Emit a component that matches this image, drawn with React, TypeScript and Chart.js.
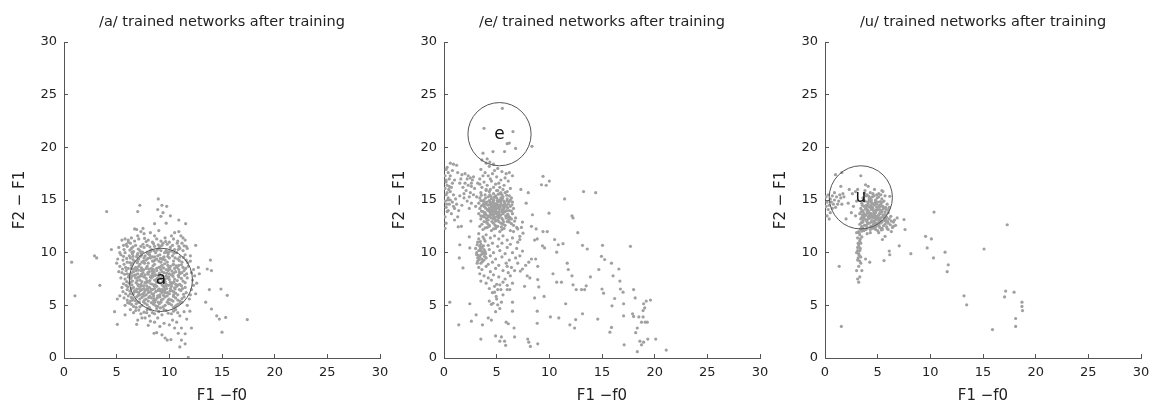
import React, { useEffect, useRef } from "react";
import { Chart, registerables } from "chart.js";
Chart.register(...registerables);

type P = [number, number];

const tickValues = [0, 5, 10, 15, 20, 25, 30];
const xAxisLabel = "F1 \u2212f0";
const yAxisLabel = "F2 \u2212 F1";
const panelTitles = [
  "/a/ trained networks after training",
  "/e/ trained networks after training",
  "/u/ trained networks after training",
];
const vowelLabels = ["a", "e", "u"];
const circleCenters: P[] = [
  [9.2, 7.42],
  [5.27, 21.25],
  [3.4, 15.25],
];
const circleRadii = [3, 3, 3];

// ---------- /a/ ----------
const aCluster: P[] = [
  [6.9, 12.2], [7.3, 12.0], [7.6, 11.8], [8.2, 11.9], [9.0, 12.1], [10.5, 11.9], [10.9, 12.0], [11.1, 11.6], [6.4, 11.4], [5.8, 11.3], [6.1, 11.2],
  [5.5, 11.2], [6.3, 10.9], [6.7, 11.1], [7.1, 11.3], [7.5, 10.8], [8.0, 11.2], [8.4, 11.0], [8.8, 11.3], [9.2, 11.1], [9.6, 11.4], [10.0, 11.0], [10.4, 11.3], [10.8, 11.1], [11.2, 10.9], [11.5, 11.2], [5.9, 10.8], [9.4, 10.9],
  [5.2, 10.5], [5.7, 10.3], [6.0, 10.6], [6.4, 10.4], [6.8, 10.7], [7.2, 10.2], [7.6, 10.5], [7.9, 10.7], [8.3, 10.3], [8.6, 10.6], [9.0, 10.4], [9.3, 10.7], [9.7, 10.2], [10.1, 10.5], [10.5, 10.3], [10.9, 10.6], [11.3, 10.2], [11.7, 10.4], [6.6, 10.1], [8.1, 10.0],
  [5.4, 9.8], [5.8, 10.0], [6.2, 9.7], [6.5, 9.9], [6.9, 9.6], [7.3, 10.0], [7.7, 9.7], [8.0, 9.9], [8.4, 9.6], [8.7, 10.0], [9.1, 9.8], [9.5, 9.6], [9.9, 9.9], [10.3, 9.7], [10.7, 10.0], [11.0, 9.6], [11.5, 9.8], [12.0, 9.7], [7.0, 9.9], [8.9, 9.7],
  [5.6, 9.3], [6.0, 9.1], [6.3, 9.5], [6.7, 9.2], [7.1, 9.4], [7.4, 9.1], [7.8, 9.3], [8.2, 9.5], [8.5, 9.2], [8.8, 9.4], [9.2, 9.1], [9.6, 9.3], [10.0, 9.5], [10.4, 9.2], [10.8, 9.4], [11.2, 9.1], [11.6, 9.3], [6.5, 9.0], [8.0, 9.0], [9.4, 9.5],
  [5.3, 8.7], [5.7, 8.9], [6.1, 8.5], [6.4, 8.8], [6.8, 8.6], [7.2, 8.9], [7.5, 8.4], [7.9, 8.7], [8.3, 8.5], [8.6, 8.9], [9.0, 8.6], [9.3, 8.8], [9.7, 8.4], [10.1, 8.7], [10.5, 8.5], [10.9, 8.8], [11.3, 8.6], [11.8, 8.7], [6.9, 8.5], [8.8, 8.5],
  [5.5, 8.1], [5.9, 8.3], [6.2, 7.9], [6.6, 8.2], [7.0, 8.0], [7.3, 8.3], [7.7, 7.9], [8.1, 8.2], [8.4, 8.0], [8.8, 8.3], [9.1, 7.9], [9.5, 8.1], [9.9, 8.3], [10.2, 7.9], [10.6, 8.2], [11.0, 8.0], [11.4, 8.3], [12.1, 8.1], [7.4, 7.8], [9.7, 7.8],
  [5.8, 7.5], [6.1, 7.7], [6.5, 7.3], [6.8, 7.6], [7.2, 7.4], [7.6, 7.7], [7.9, 7.3], [8.3, 7.6], [8.6, 7.4], [9.0, 7.7], [9.4, 7.3], [9.8, 7.6], [10.1, 7.2], [10.5, 7.5], [10.9, 7.7], [11.3, 7.3], [11.7, 7.6], [12.2, 7.4], [6.3, 7.2], [8.8, 7.2],
  [5.9, 6.9], [6.2, 7.1], [6.6, 6.7], [7.0, 7.0], [7.3, 6.8], [7.7, 7.1], [8.1, 6.7], [8.4, 7.0], [8.8, 6.8], [9.2, 7.1], [9.5, 6.7], [9.9, 6.9], [10.3, 7.1], [10.7, 6.8], [11.0, 7.0], [11.5, 6.7], [12.3, 6.9], [6.4, 6.6], [8.6, 6.6], [10.1, 6.6],
  [5.6, 6.3], [6.0, 6.5], [6.3, 6.1], [6.7, 6.4], [7.1, 6.2], [7.4, 6.5], [7.8, 6.0], [8.2, 6.3], [8.5, 6.1], [8.9, 6.4], [9.3, 6.2], [9.6, 6.5], [10.0, 6.1], [10.4, 6.3], [10.8, 6.0], [11.1, 6.4], [11.6, 6.2], [12.0, 6.0], [7.6, 6.6], [9.1, 6.0],
  [5.7, 5.7], [6.1, 5.9], [6.5, 5.5], [6.9, 5.8], [7.2, 5.6], [7.6, 5.9], [8.0, 5.4], [8.3, 5.7], [8.7, 5.5], [9.1, 5.8], [9.4, 5.6], [9.8, 5.9], [10.2, 5.5], [10.6, 5.7], [11.0, 5.4], [11.4, 5.8], [6.3, 5.4], [8.5, 5.9],
  [6.2, 5.2], [6.6, 4.9], [7.0, 5.3], [7.4, 5.0], [7.7, 5.2], [8.1, 4.8], [8.5, 5.1], [8.9, 4.9], [9.2, 5.3], [9.6, 5.0], [10.0, 5.2], [10.4, 4.8], [10.8, 5.1], [11.2, 5.3], [5.8, 5.0],
  [6.8, 4.5], [7.3, 4.2], [7.9, 4.6], [8.4, 4.3], [8.8, 4.7], [9.3, 4.1], [9.7, 4.5], [10.2, 4.2], [10.6, 4.6], [11.0, 4.0], [8.1, 4.0], [9.0, 4.4], [6.3, 4.6], [11.4, 4.4],
  [7.0, 3.6], [8.2, 3.5], [8.9, 3.8], [9.5, 3.3], [10.3, 3.6], [9.1, 3.0], [8.0, 3.1], [10.7, 3.4],
];
const aDense: P[] = [
  [7.1, 8.7], [7.5, 8.1], [7.8, 8.5], [8.2, 7.7], [8.5, 8.4], [8.9, 7.6], [9.2, 8.4], [9.6, 7.5], [10.0, 8.0], [7.3, 7.0],
  [7.7, 6.4], [8.0, 7.2], [8.4, 6.5], [8.7, 7.9], [9.3, 6.5], [9.7, 7.0], [10.2, 6.8], [7.0, 9.2], [7.6, 9.5], [8.4, 9.2],
  [9.0, 9.2], [9.8, 9.1], [7.2, 6.0], [8.0, 6.2], [8.9, 5.9], [9.6, 6.2], [10.4, 6.0], [6.8, 7.9], [6.4, 8.5], [6.9, 6.3],
  [8.6, 5.3], [9.9, 5.5], [7.9, 10.0], [8.6, 9.6], [9.2, 10.2], [10.0, 10.1], [10.4, 8.9], [10.6, 7.0], [10.9, 8.4], [6.0, 8.0],
];
const aFill: P[] = [
  [6.45, 10.05], [7.05, 10.35], [7.45, 10.05], [8.25, 10.15], [8.85, 10.25], [9.55, 10.0], [10.25, 10.15], [10.85, 10.3],
  [5.95, 9.45], [6.55, 9.35], [6.95, 9.75], [7.55, 9.2], [8.15, 9.75], [8.65, 9.3], [9.35, 9.35], [9.85, 9.65], [10.55, 9.5], [11.35, 9.55], [7.25, 9.65],
  [5.85, 8.6], [6.25, 9.05], [6.6, 8.45], [7.05, 8.35], [7.65, 9.0], [8.05, 8.45], [8.45, 8.75], [9.15, 8.65], [9.55, 8.95], [9.95, 8.55], [10.35, 8.85], [10.75, 8.6], [11.15, 8.85], [11.55, 8.5],
  [5.75, 7.95], [6.4, 8.05], [6.85, 8.3], [7.2, 7.75], [7.55, 8.35], [8.0, 7.95], [8.35, 8.25], [8.65, 7.85], [9.3, 8.2], [9.75, 8.05], [10.05, 8.45], [10.4, 8.05], [10.85, 7.85], [11.2, 8.1], [11.65, 8.0],
  [5.95, 7.25], [6.35, 7.55], [6.65, 7.85], [7.05, 7.65], [7.4, 7.25], [7.8, 7.55], [8.15, 7.35], [8.45, 7.75], [8.8, 7.5], [9.2, 7.55], [9.6, 7.25], [10.0, 7.45], [10.35, 7.75], [10.75, 7.35], [11.15, 7.55], [11.5, 7.15],
  [6.05, 6.75], [6.45, 6.95], [6.85, 7.15], [7.15, 6.6], [7.55, 6.85], [7.9, 6.6], [8.25, 7.05], [8.55, 6.85], [9.0, 6.55], [9.35, 6.9], [9.75, 6.6], [10.15, 7.0], [10.5, 6.65], [10.85, 6.95], [11.25, 6.6],
  [5.85, 6.1], [6.25, 6.35], [6.55, 6.05], [6.9, 6.55], [7.25, 6.4], [7.6, 6.2], [7.95, 6.45], [8.35, 6.1], [8.7, 6.3], [9.05, 6.55], [9.45, 6.35], [9.8, 6.2], [10.2, 6.4], [10.6, 6.15], [10.95, 6.5], [11.35, 6.05],
  [6.0, 5.5], [6.4, 5.75], [6.75, 5.45], [7.05, 5.95], [7.4, 5.75], [7.8, 5.6], [8.15, 5.85], [8.5, 5.45], [8.85, 5.7], [9.25, 5.5], [9.6, 5.8], [10.0, 5.6], [10.4, 5.85], [10.8, 5.5], [11.2, 5.65],
  [6.4, 5.1], [6.85, 5.15], [7.2, 4.85], [7.55, 5.35], [7.9, 5.05], [8.3, 5.25], [8.7, 4.95], [9.05, 5.15], [9.4, 4.85], [9.8, 5.3], [10.2, 5.05], [10.6, 4.95], [11.0, 5.2],
  [6.6, 4.3], [7.1, 4.55], [7.6, 4.35], [8.2, 4.6], [8.6, 4.2], [9.5, 4.6], [9.9, 4.25], [10.4, 4.45], [10.8, 4.3],
  [5.65, 10.7], [6.1, 11.0], [6.55, 10.55], [7.3, 10.6], [7.8, 11.05], [8.5, 10.85], [9.1, 10.6], [9.8, 10.8], [10.3, 10.7], [11.0, 10.4],
  [11.4, 10.65], [7.0, 11.6], [8.6, 11.6], [10.2, 11.6], [11.3, 11.4], [5.3, 10.0], [5.1, 9.4], [5.2, 8.2], [5.4, 7.6], [5.5, 6.7],
  [5.3, 5.9], [12.0, 9.2], [12.3, 8.4], [12.4, 7.8], [12.1, 6.5], [11.9, 5.6], [11.7, 5.0], [12.6, 7.1],
];
const aCore: P[] = [
  [6.55, 9.65], [7.35, 9.75], [7.95, 9.45], [8.55, 10.2], [9.15, 9.45], [9.75, 10.05], [10.45, 9.95],
  [6.95, 9.05], [7.35, 8.55], [7.95, 8.1], [8.55, 8.15], [9.05, 8.05], [9.45, 8.55], [9.85, 8.8], [10.25, 8.25], [10.65, 8.75],
  [6.45, 7.75], [6.95, 7.35], [7.35, 7.95], [7.75, 7.2], [8.35, 7.85], [8.95, 7.25], [9.35, 7.75], [9.95, 7.7], [10.45, 7.25], [10.95, 8.15],
  [6.65, 6.25], [7.05, 6.85], [7.45, 6.05], [7.85, 6.85], [8.25, 6.55], [8.65, 6.95], [9.15, 6.35], [9.65, 6.85], [10.05, 6.35], [10.55, 6.55],
  [6.55, 5.65], [7.15, 5.3], [7.65, 5.5], [8.05, 5.75], [8.55, 5.65], [8.95, 5.3], [9.45, 5.95], [9.95, 5.15], [10.35, 5.4], [7.95, 4.7], [9.15, 4.75], [6.85, 4.8],
  [8.15, 10.55], [8.95, 10.75], [9.65, 11.05], [7.65, 11.35], [6.25, 10.25], [5.65, 9.65], [5.55, 8.45], [5.65, 7.05], [6.05, 5.25], [11.45, 7.85], [11.15, 6.85], [11.75, 9.05], [10.75, 10.9], [10.95, 9.25],
];
const aOuter: P[] = [
  [0.73, 9.1], [1.04, 5.9], [2.9, 9.7], [3.1, 9.5], [3.4, 6.9], [4.05, 13.9], [4.5, 10.3], [4.8, 4.4], [5.0, 9.0], [5.06, 5.6],
  [5.06, 3.2], [5.8, 4.1], [7.2, 14.5], [7.0, 13.9], [6.9, 3.2], [8.95, 15.1], [8.9, 14.1], [9.3, 14.5], [9.75, 14.4], [9.4, 13.8],
  [9.2, 13.45], [10.1, 13.5], [9.7, 12.8], [10.9, 13.1], [11.55, 12.75], [8.6, 12.75], [6.7, 12.25], [7.5, 12.3], [11.6, 10.6], [12.5, 10.7],
  [12.75, 8.6], [12.85, 8.0], [13.6, 8.45], [13.9, 9.3], [14.0, 8.3], [13.8, 6.5], [14.9, 6.55], [15.5, 5.95], [12.5, 6.1], [13.45, 5.3],
  [14.0, 4.65], [14.5, 4.0], [14.75, 3.7], [15.35, 3.85], [15.0, 2.45], [17.4, 3.65], [8.6, 3.4], [8.8, 2.4], [8.55, 2.35], [9.3, 2.2],
  [9.6, 1.9], [9.8, 1.7], [10.15, 1.75], [11.0, 1.05], [11.5, 1.35], [10.85, 2.35], [11.5, 2.3], [11.15, 1.7], [11.8, 0.05], [10.0, 3.15],
  [10.5, 2.85], [11.15, 2.85], [11.65, 3.7], [12.1, 2.85], [11.95, 4.45], [7.7, 3.8], [7.4, 3.8], [7.85, 4.3],
];

// ---------- /e/ ----------
const eLeft: P[] = [
  [0.1, 12.3], [0.2, 12.8], [0.1, 13.4], [0.3, 13.9], [0.2, 14.3], [0.5, 14.6], [0.1, 14.9], [0.4, 15.2], [0.2, 15.5], [0.6, 15.8],
  [0.1, 16.1], [0.3, 16.4], [0.2, 16.7], [0.5, 17.0], [0.1, 17.3], [0.4, 17.6], [0.3, 18.1], [0.6, 18.5], [0.9, 18.4], [1.2, 18.3],
  [0.8, 17.8], [0.7, 16.2], [0.9, 15.5], [1.1, 15.1], [0.8, 14.8], [1.0, 14.2], [0.7, 13.7], [1.3, 13.4], [1.0, 13.1], [1.2, 14.6],
  [1.5, 15.4], [0.4, 14.0], [0.6, 15.0], [0.3, 15.7], [0.2, 16.9], [0.8, 16.6], [1.0, 16.9], [0.5, 16.3], [0.9, 14.4], [1.4, 14.0],
];
const eBand: P[] = [
  [1.3, 17.6], [1.7, 17.4], [2.0, 17.5], [2.3, 17.3], [2.5, 17.1], [2.7, 16.9], [1.6, 17.0], [2.0, 16.6], [2.3, 16.4], [2.6, 16.3],
  [2.9, 16.1], [1.8, 16.2], [2.1, 15.9], [2.5, 15.7], [2.8, 15.5], [3.1, 15.3], [1.9, 15.2], [2.2, 14.9], [2.6, 14.7], [2.4, 14.2],
  [1.7, 14.5], [3.0, 14.4], [2.8, 17.2], [3.2, 16.6],
];
const eUpper: P[] = [
  [3.6, 18.8], [4.0, 18.5], [4.3, 18.2], [4.7, 18.4], [5.1, 18.0], [5.5, 17.7], [5.9, 17.5], [6.2, 17.6], [3.5, 17.9], [3.9, 17.6],
  [4.2, 17.3], [4.6, 17.5], [5.0, 17.2], [5.4, 16.9], [5.8, 17.1], [6.1, 16.8], [3.4, 17.0], [3.8, 16.7], [4.1, 16.4], [4.5, 16.8],
  [4.9, 16.5], [5.3, 16.2], [5.7, 16.4], [6.3, 16.1], [3.6, 16.2], [4.4, 16.0], [5.0, 15.9], [6.0, 15.8], [6.5, 17.3],
];
const eMain: P[] = [
  [3.5, 15.7], [3.9, 15.5], [4.3, 15.8], [4.7, 15.6], [5.1, 15.9], [5.5, 15.5], [5.8, 15.7], [6.2, 15.4], [4.0, 15.9], [5.3, 15.6],
  [3.4, 15.2], [3.8, 15.0], [4.2, 15.3], [4.5, 15.1], [4.9, 15.4], [5.2, 15.0], [5.6, 15.3], [6.0, 15.1], [6.4, 15.2], [4.7, 15.0], [5.4, 15.2], [5.0, 15.2],
  [3.3, 14.7], [3.7, 14.9], [4.0, 14.6], [4.4, 14.8], [4.8, 14.5], [5.1, 14.8], [5.4, 14.6], [5.7, 14.9], [6.1, 14.6], [6.5, 14.8], [4.6, 14.7], [5.0, 14.6], [5.6, 14.5], [4.2, 14.5],
  [3.4, 14.2], [3.8, 14.4], [4.1, 14.1], [4.5, 14.3], [4.8, 14.0], [5.2, 14.3], [5.5, 14.1], [5.9, 14.4], [6.2, 14.0], [6.6, 14.2], [4.3, 14.2], [5.0, 14.2], [5.7, 14.2], [4.7, 14.4],
  [3.3, 13.7], [3.7, 13.9], [4.0, 13.6], [4.4, 13.8], [4.7, 13.5], [5.1, 13.8], [5.4, 13.6], [5.8, 13.9], [6.1, 13.5], [6.5, 13.7], [4.2, 13.5], [4.9, 13.7], [5.6, 13.7], [3.9, 13.8],
  [3.5, 13.2], [3.8, 13.4], [4.2, 13.1], [4.5, 13.3], [4.9, 13.0], [5.2, 13.3], [5.6, 13.1], [6.0, 13.4], [6.4, 13.2], [6.8, 13.3], [4.0, 13.3], [4.7, 13.2],
  [3.6, 12.7], [4.0, 12.9], [4.3, 12.6], [4.7, 12.8], [5.0, 12.5], [5.4, 12.8], [5.8, 12.6], [6.2, 12.9], [6.6, 12.6], [3.4, 12.5],
  [3.7, 12.2], [4.1, 12.4], [4.5, 12.1], [4.9, 12.3], [5.3, 12.0], [5.7, 12.3], [6.3, 12.1], [6.9, 12.4],
  [4.5, 14.5], [4.8, 14.2], [5.2, 14.5], [5.5, 13.9], [5.0, 13.4], [4.6, 13.9], [5.3, 14.9], [4.9, 15.3], [5.6, 14.0], [5.8, 14.6],
  [4.4, 14.0], [5.1, 13.1], [4.3, 13.4], [5.9, 13.3], [6.3, 14.4], [5.4, 15.7], [4.7, 14.9], [5.2, 13.7], [6.0, 14.9], [4.1, 14.8],
];
const eFill: P[] = [
  [3.55, 15.45], [3.95, 15.2], [4.35, 15.5], [4.75, 15.25], [5.15, 15.55], [5.55, 15.15], [5.95, 15.45], [6.3, 15.0],
  [3.5, 14.95], [3.9, 14.75], [4.3, 14.95], [4.65, 14.35], [5.05, 14.95], [5.35, 14.35], [5.75, 14.75], [6.2, 14.85],
  [3.55, 14.45], [3.95, 14.25], [4.35, 14.6], [4.85, 14.65], [5.25, 14.15], [5.65, 14.35], [6.05, 14.25], [6.45, 14.55],
  [3.55, 13.95], [3.85, 13.65], [4.25, 13.95], [4.6, 13.65], [4.95, 13.95], [5.3, 13.45], [5.7, 13.85], [6.05, 13.65], [6.4, 13.95],
  [3.65, 13.45], [4.05, 13.25], [4.4, 13.55], [4.8, 13.35], [5.15, 13.55], [5.5, 13.25], [5.85, 13.5], [6.25, 13.35],
  [3.8, 12.95], [4.15, 12.75], [4.55, 12.95], [4.85, 12.6], [5.2, 12.95], [5.6, 12.7], [6.0, 12.95], [6.4, 12.75],
  [3.9, 12.35], [4.3, 12.5], [4.7, 12.25], [5.1, 12.5], [5.5, 12.2],
  [3.15, 10.75], [3.45, 10.35], [3.75, 10.65], [3.25, 9.75], [3.55, 10.15], [3.85, 9.65], [3.35, 9.35], [3.65, 9.15], [3.15, 9.0], [3.95, 9.9], [3.45, 11.05], [3.8, 11.3],
  [1.5, 16.6], [2.2, 17.0], [2.6, 16.6], [1.9, 15.6], [2.4, 15.3], [0.35, 15.0], [0.45, 16.0], [0.25, 14.6], [0.6, 17.3], [0.2, 17.9],
  [3.7, 17.3], [4.4, 17.0], [4.8, 17.8], [5.2, 16.6], [4.0, 16.0], [4.7, 16.2], [5.6, 16.0], [3.4, 16.5],
  [4.15, 14.05], [4.55, 14.1], [4.95, 14.4], [5.4, 14.8], [4.75, 13.85], [5.25, 13.9], [5.45, 15.0], [4.45, 15.35],
  [4.85, 13.15], [5.45, 12.45], [3.75, 14.6], [6.15, 13.15], [5.65, 12.9], [5.95, 14.0], [4.1, 13.1], [3.5, 13.5],
];
const eColumn: P[] = [
  [3.3, 11.8], [3.7, 11.5], [4.0, 11.7], [4.4, 11.4], [4.8, 11.6], [5.2, 11.3], [5.6, 11.6], [6.0, 11.2], [6.5, 11.4],
  [3.2, 11.0], [3.5, 10.8], [3.9, 11.1], [4.2, 10.7], [4.6, 10.9], [5.1, 10.6], [5.5, 10.9], [6.0, 10.5],
  [3.0, 10.4], [3.3, 10.2], [3.6, 10.5], [3.9, 10.1], [4.3, 10.3], [4.7, 10.0], [5.3, 10.2], [5.8, 9.9],
  [3.1, 9.8], [3.4, 9.6], [3.7, 9.9], [4.0, 9.5], [4.4, 9.7], [4.9, 9.4], [5.5, 9.6], [6.2, 9.3],
  [3.2, 9.2], [3.5, 9.0], [3.8, 9.3], [4.2, 8.9], [4.6, 9.1], [5.2, 8.8], [5.9, 9.0], [6.4, 8.6],
  [3.3, 8.6], [3.6, 8.4], [4.0, 8.7], [4.4, 8.2], [4.9, 8.5], [5.6, 8.3], [6.1, 8.1],
  [3.4, 8.0], [3.8, 7.8], [4.2, 7.6], [4.7, 7.9], [5.2, 7.7], [5.8, 7.5], [6.3, 7.8],
  [3.5, 7.3], [4.0, 7.1], [4.5, 7.4], [5.0, 7.0], [5.6, 7.2], [6.0, 6.9], [6.5, 7.1],
  [4.3, 6.6], [4.8, 6.8], [5.4, 6.5], [4.6, 6.2], [5.6, 6.0], [5.0, 5.6], [4.5, 5.1], [5.3, 4.7], [4.9, 4.4],
  [3.1, 10.0], [3.4, 10.6], [3.6, 9.4], [3.2, 9.5], [3.8, 10.3], [3.5, 9.8], [3.3, 11.3], [3.7, 10.0],
];
const eScatter: P[] = [
  [5.54, 23.7], [3.8, 21.8], [6.55, 21.5], [6.0, 20.35], [6.2, 20.4], [5.75, 19.6], [6.8, 19.9], [8.35, 20.1], [3.7, 19.45], [4.65, 19.6], [4.1, 18.9], [4.35, 18.6],
  [9.4, 17.25], [9.25, 16.45], [9.7, 16.4], [10.0, 16.8], [7.3, 16.0], [8.0, 15.7], [7.8, 14.7], [11.45, 15.1], [13.25, 15.8], [14.4, 15.7],
  [12.15, 13.5], [12.25, 13.3], [9.97, 13.75], [8.4, 13.6], [7.45, 12.9], [8.3, 12.5], [8.75, 12.25], [9.4, 12.0], [9.8, 12.0], [8.85, 11.3],
  [8.6, 11.2], [9.35, 10.65], [9.55, 10.45], [10.5, 11.25], [10.85, 10.75], [11.3, 10.85], [12.7, 11.9], [10.7, 10.05], [13.15, 10.7], [13.6, 10.35],
  [15.05, 10.7], [14.95, 9.65], [15.25, 9.35], [17.7, 10.6], [15.9, 9.0], [14.7, 8.4], [16.6, 8.45], [11.7, 9.0], [11.8, 8.4], [12.15, 7.8],
  [13.9, 7.7], [10.35, 8.0], [10.7, 7.2], [11.15, 7.2], [12.25, 6.95], [12.55, 6.5], [13.05, 6.5], [13.35, 6.5], [13.5, 6.85], [15.0, 6.55],
  [15.15, 6.15], [16.05, 7.8], [16.7, 7.3], [16.75, 6.55], [17.0, 6.25], [16.2, 5.65], [17.05, 5.15], [15.95, 4.95], [18.0, 6.5], [18.15, 5.7],
  [18.95, 5.15], [19.05, 4.75], [18.9, 4.5], [19.2, 5.4], [19.6, 5.5], [17.05, 4.0], [17.9, 4.2], [18.0, 3.95], [18.5, 3.9], [18.9, 3.9],
  [19.1, 3.4], [19.3, 3.4], [18.75, 3.4], [18.35, 2.85], [18.2, 2.4], [18.6, 1.6], [18.75, 1.25], [18.35, 0.6], [18.95, 1.5], [19.35, 1.8],
  [20.1, 1.8], [21.1, 0.75], [17.1, 1.25], [15.9, 2.9], [15.75, 2.45], [14.6, 3.7], [13.15, 4.2], [12.5, 3.65], [12.4, 2.85], [11.95, 3.15],
  [11.55, 5.15], [10.9, 3.8], [10.1, 3.9], [9.5, 5.85], [8.85, 4.45], [9.0, 6.75], [8.9, 7.45], [8.9, 8.7], [8.7, 9.4], [8.3, 9.4],
  [8.05, 9.1], [7.75, 8.8], [7.45, 8.45], [7.25, 8.25], [7.9, 7.8], [8.15, 7.6], [7.65, 6.8], [7.2, 9.7], [7.45, 10.15], [7.2, 11.25],
  [7.2, 11.55], [7.5, 11.85], [7.0, 12.25], [7.35, 12.4], [6.7, 13.0], [8.6, 5.7], [8.85, 3.3], [7.95, 1.8], [8.05, 1.5], [8.2, 1.1],
  [8.9, 1.35], [6.7, 2.0], [5.9, 3.4], [6.1, 3.25], [6.65, 2.85], [5.45, 2.0], [5.75, 1.6], [4.9, 2.1], [5.3, 1.6], [5.85, 1.2],
  [3.5, 1.8], [3.65, 3.15], [4.2, 3.8], [4.5, 3.6], [3.05, 4.1], [2.6, 3.5], [2.45, 5.15], [1.4, 3.15], [0.55, 5.3], [6.5, 4.45],
  [6.5, 5.3], [6.0, 6.5], [6.25, 6.5], [4.3, 5.4], [4.65, 5.2], [5.1, 5.05], [5.45, 5.3], [4.95, 5.85], [4.8, 6.25], [5.1, 6.5], [5.3, 6.95],
  [2.4, 11.5], [1.5, 10.75], [1.45, 9.5], [1.8, 8.55], [2.45, 10.45], [2.55, 13.0], [1.35, 12.45], [1.65, 12.5],
  [6.5, 10.0], [6.8, 9.5], [6.7, 8.3], [6.0, 8.7], [7.0, 9.0], [6.3, 10.8], [6.9, 10.4], [7.0, 11.0], [6.6, 12.0],
];

// ---------- /u/ ----------
const uBlob: P[] = [
  [3.8, 15.9], [4.3, 15.7], [4.7, 16.0], [5.1, 15.6], [5.5, 15.8], [4.0, 15.5], [4.9, 15.5],
  [3.6, 15.2], [3.9, 15.4], [4.2, 15.1], [4.5, 15.3], [4.8, 15.0], [5.1, 15.3], [5.4, 15.1], [5.7, 15.4], [4.4, 15.0],
  [3.5, 14.7], [3.8, 14.9], [4.1, 14.6], [4.4, 14.8], [4.7, 14.5], [5.0, 14.8], [5.3, 14.6], [5.6, 14.9], [5.9, 14.6], [4.2, 14.9], [4.9, 14.6], [3.9, 14.5],
  [3.4, 14.2], [3.7, 14.4], [4.0, 14.1], [4.3, 14.3], [4.6, 14.0], [4.9, 14.3], [5.2, 14.1], [5.5, 14.4], [5.8, 14.1], [6.1, 14.3], [4.4, 14.1], [5.0, 14.1], [3.6, 14.0], [5.3, 14.4],
  [3.3, 13.7], [3.6, 13.9], [3.9, 13.6], [4.2, 13.8], [4.5, 13.5], [4.8, 13.8], [5.1, 13.6], [5.4, 13.9], [5.7, 13.6], [6.0, 13.8], [4.0, 13.9], [4.7, 13.6], [5.2, 13.8], [3.8, 13.5], [4.4, 13.7],
  [3.4, 13.2], [3.7, 13.4], [4.0, 13.1], [4.3, 13.3], [4.6, 13.0], [4.9, 13.3], [5.2, 13.1], [5.5, 13.4], [5.8, 13.1], [6.1, 13.2], [4.1, 13.4], [4.8, 13.1], [3.6, 13.0], [5.3, 13.3],
  [3.3, 12.7], [3.6, 12.9], [3.9, 12.6], [4.2, 12.8], [4.5, 12.5], [4.8, 12.8], [5.1, 12.6], [5.4, 12.9], [5.7, 12.7], [6.0, 12.8], [6.3, 13.0], [4.0, 12.9], [4.6, 12.7],
  [3.4, 12.3], [3.7, 12.1], [4.0, 12.4], [4.3, 12.2], [4.7, 12.4], [5.0, 12.1], [5.4, 12.3], [3.5, 12.5],
  [3.9, 14.2], [4.2, 13.5], [4.5, 14.3], [4.7, 13.3], [5.0, 13.5], [4.4, 12.9], [4.1, 14.0], [4.8, 14.9], [5.5, 13.6], [5.2, 12.9], [3.7, 13.7], [4.6, 14.6],
];
const uFill: P[] = [
  [3.75, 15.65], [4.15, 15.35], [4.55, 15.6], [4.95, 15.2], [5.3, 15.5], [3.65, 14.95], [4.05, 14.8], [4.35, 14.45], [4.75, 14.75], [5.15, 14.5], [5.45, 14.8], [5.75, 14.3],
  [3.55, 14.5], [3.85, 14.15], [4.15, 14.35], [4.55, 14.2], [4.85, 14.05], [5.1, 14.35], [5.4, 14.0], [5.7, 13.85], [6.0, 14.1],
  [3.45, 13.9], [3.75, 13.6], [4.05, 13.75], [4.35, 13.45], [4.65, 13.75], [4.95, 13.45], [5.25, 13.7], [5.55, 13.5], [5.85, 13.35],
  [3.5, 13.35], [3.85, 13.15], [4.15, 13.25], [4.45, 13.05], [4.75, 13.45], [5.05, 13.15], [5.35, 13.0], [5.65, 13.25], [5.95, 12.95],
  [3.45, 12.85], [3.75, 12.6], [4.05, 12.75], [4.35, 12.5], [4.65, 12.95], [4.95, 12.65], [5.25, 12.8], [5.55, 12.55], [5.85, 12.45], [6.2, 12.65],
  [3.6, 12.3], [3.9, 12.2], [4.5, 12.3], [4.85, 12.5], [5.2, 12.4], [6.5, 12.9], [6.7, 12.6], [6.0, 12.2],
  [3.25, 11.9], [3.35, 11.3], [3.15, 10.9], [3.35, 10.4], [3.25, 9.75], [3.15, 9.5], [3.3, 9.2], [3.1, 10.2], [3.4, 10.9],
  [3.65, 13.25], [4.25, 13.65], [4.55, 13.35], [4.85, 13.95], [5.15, 13.3], [4.45, 14.65], [3.95, 13.05], [4.75, 12.35], [5.05, 12.85], [5.65, 13.05],
  [3.95, 14.45], [5.25, 14.85], [4.3, 15.2], [4.65, 15.4], [5.55, 14.2], [3.5, 12.05], [5.35, 12.15], [5.8, 12.95], [6.4, 12.4], [3.55, 13.6],
];
const uColumn: P[] = [
  [3.2, 12.0], [3.3, 11.7], [3.1, 11.4], [3.3, 11.1], [3.2, 10.8], [3.1, 10.5], [3.3, 10.2], [3.2, 9.9], [3.4, 9.6], [3.1, 9.3],
  [3.4, 12.2], [3.0, 11.9], [3.5, 11.5], [3.2, 10.6], [3.0, 10.0], [3.2, 8.7], [3.5, 8.3], [3.1, 7.5], [3.2, 7.2], [3.4, 9.0],
  [3.0, 8.3], [3.3, 7.7],
];
const uLeft: P[] = [
  [2.3, 16.0], [2.6, 15.6], [2.9, 15.8], [3.1, 16.0], [2.7, 14.4], [2.2, 14.7], [3.0, 14.9], [2.0, 13.2], [1.8, 15.3], [2.9, 13.5], [2.5, 13.8],
  [0.1, 15.3], [0.3, 15.5], [0.5, 15.1], [0.7, 15.4], [0.9, 15.0], [1.1, 15.3], [1.3, 14.9], [1.5, 15.2], [0.2, 14.8], [0.4, 14.5],
  [0.6, 14.8], [0.8, 14.6], [1.0, 14.3], [1.2, 14.6], [0.3, 14.1], [0.5, 13.8], [0.2, 13.5], [0.4, 13.2], [0.9, 15.7], [1.4, 15.5],
  [1.6, 14.6], [0.1, 14.4], [0.7, 14.2], [1.7, 15.6],
];
const uScatter: P[] = [
  [5.75, 13.6], [6.25, 13.45], [5.45, 12.2], [5.45, 11.25], [5.7, 11.55], [4.8, 12.2], [6.5, 12.5], [5.9, 12.3], [6.6, 13.1], [6.3, 12.0],
  [4.3, 11.9], [4.0, 11.8], [5.1, 11.9], [6.85, 13.3], [7.5, 13.15], [7.6, 12.2], [7.05, 10.65], [6.1, 10.15], [6.15, 9.8], [5.6, 9.25],
  [3.85, 9.4], [4.25, 9.1], [8.15, 9.9], [9.55, 11.55], [9.7, 10.45], [10.1, 11.3], [10.3, 9.5], [10.35, 13.85], [11.4, 10.05], [11.7, 8.85],
  [11.6, 8.2], [15.1, 10.35], [17.3, 12.65], [13.2, 5.9], [13.45, 5.05], [15.9, 2.7], [17.05, 5.8], [17.15, 6.35], [17.95, 6.25], [18.7, 5.3],
  [18.7, 4.9], [18.75, 4.5], [18.1, 3.75], [18.1, 3.0], [1.55, 3.0], [1.35, 8.7], [3.4, 17.3], [1.0, 17.4], [1.6, 17.6], [1.5, 16.3],
  [3.85, 16.45], [4.1, 16.3], [5.4, 15.9], [6.15, 15.35],
];

const panelPoints: P[][] = [
  [...aCluster, ...aDense, ...aFill, ...aCore, ...aOuter],
  [...eLeft, ...eBand, ...eUpper, ...eMain, ...eFill, ...eColumn, ...eScatter],
  [...uBlob, ...uFill, ...uColumn, ...uLeft, ...uScatter],
];

const FONT = '"DejaVu Sans", sans-serif';
const CANVAS_W = 400;
const CANVAS_H = 405;
const canvasLefts = [0, 380, 761];

const circlePlugin = {
  id: "vowelCircle",
  afterDatasetsDraw(chart: any, _args: any, opts: any) {
    const { ctx } = chart;
    const x = chart.scales.x;
    const y = chart.scales.y;
    const [cx, cy] = opts.center;
    const px = x.getPixelForValue(cx);
    const py = y.getPixelForValue(cy);
    const rx = Math.abs(x.getPixelForValue(cx + opts.radius) - px);
    const ry = Math.abs(y.getPixelForValue(cy + opts.radius) - py);
    ctx.save();
    ctx.beginPath();
    ctx.ellipse(px, py, rx, ry, 0, 0, Math.PI * 2);
    ctx.strokeStyle = "#555";
    ctx.lineWidth = 1;
    ctx.stroke();
    ctx.fillStyle = "#111";
    ctx.font = "17px " + FONT;
    ctx.textAlign = "center";
    ctx.textBaseline = "middle";
    ctx.fillText(opts.label, px, py);
    ctx.restore();
  },
};

function Panel({ idx }: { idx: number }) {
  const ref = useRef<HTMLCanvasElement>(null);
  useEffect(() => {
    if (!ref.current) return;
    const setTicks = (scale: any) => {
      scale.ticks = tickValues.map((v) => ({ value: v }));
    };
    const chart = new Chart(ref.current, {
      type: "scatter",
      data: {
        datasets: [
          {
            data: panelPoints[idx].map(([x, y]) => ({ x, y })),
            pointRadius: 1.6,
            pointBackgroundColor: "#a0a0a0",
            pointBorderWidth: 0,
            pointHoverRadius: 1.6,
          },
        ],
      },
      options: {
        responsive: false,
        animation: false,
        events: [],
        layout: { padding: { left: 0, right: 20, top: 0, bottom: 0 } },
        plugins: {
          legend: { display: false },
          tooltip: { enabled: false },
          title: {
            display: true,
            text: panelTitles[idx],
            fullSize: false,
            color: "#222",
            font: { family: FONT, size: 14.5, weight: "normal" },
            padding: { top: 13.6, bottom: 11 },
          },
          vowelCircle: {
            center: circleCenters[idx],
            radius: circleRadii[idx],
            label: vowelLabels[idx],
          },
        } as any,
        scales: {
          x: {
            type: "linear",
            min: 0,
            max: 30,
            afterBuildTicks: setTicks,
            afterFit: (s: any) => {
              s.height = 47;
            },
            grid: { drawOnChartArea: false, drawTicks: true, tickLength: -4, color: "#555" },
            border: { display: true, color: "#555", width: 1 },
            ticks: { color: "#222", font: { family: FONT, size: 13 }, padding: 11, maxRotation: 0 },
            title: {
              display: true,
              text: xAxisLabel,
              color: "#222",
              font: { family: FONT, size: 15 },
              padding: { top: 0, bottom: 0 },
            },
          },
          y: {
            type: "linear",
            min: 0,
            max: 30,
            afterBuildTicks: setTicks,
            afterFit: (s: any) => {
              s.width = 64;
            },
            grid: { drawOnChartArea: false, drawTicks: true, tickLength: -4, color: "#555" },
            border: { display: true, color: "#555", width: 1 },
            ticks: { color: "#222", font: { family: FONT, size: 13 }, padding: 11 },
            title: {
              display: true,
              text: yAxisLabel,
              color: "#222",
              font: { family: FONT, size: 15 },
              padding: { top: 11, bottom: 0 },
            },
          },
        },
      },
      plugins: [circlePlugin as any],
    });
    return () => chart.destroy();
  }, [idx]);
  return (
    <canvas
      ref={ref}
      width={CANVAS_W}
      height={CANVAS_H}
      style={{ position: "absolute", left: canvasLefts[idx], top: 0, width: CANVAS_W, height: CANVAS_H }}
    />
  );
}

export default function App() {
  return (
    <div
      style={{
        position: "fixed",
        left: 0,
        top: 0,
        width: 1149,
        height: 405,
        overflow: "hidden",
        background: "#fff",
      }}
    >
      {[0, 1, 2].map((i) => (
        <Panel key={i} idx={i} />
      ))}
    </div>
  );
}
